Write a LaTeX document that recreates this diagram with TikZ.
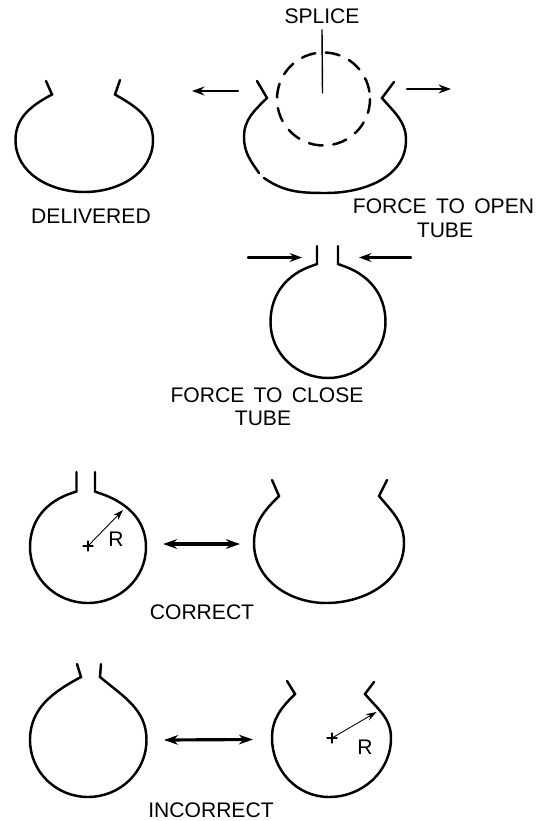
\documentclass[tikz,border=0pt]{standalone}
\usepackage{fontspec}
\setmainfont{Liberation Sans}
\usetikzlibrary{arrows.meta, positioning}

\begin{document}
\begin{tikzpicture}[x=0.02cm, y=-0.02cm, line cap=round, line join=miter,
    tube/.style={line width=1.4pt},
    force/.style={-{Stealth[length=7pt, width=5pt]}, line width=1.3pt},
    both/.style={{Stealth[length=8pt, width=5.5pt]}-{Stealth[length=8pt, width=5.5pt]}, line width=1.8pt},
    radius/.style={-{Stealth[length=6pt, width=4pt]}, line width=0.5pt},
    note/.style={font=\fontsize{12}{14}\selectfont, inner sep=0pt}]
    \useasboundingbox (0,0) rectangle (538,821);

    % delivered
    \draw[tube] (46,81) -- (52,94.5) to[out=208, in=90] (15.5,140) to[out=-90, in=180] (84.5,192)
      to[out=0, in=-90] (153,140) to[out=90, in=-30] (115,94.5) -- (120,80);
    \node[note] (delivered) at (91,216) {DELIVERED};

    % opened for the splice
    \draw[tube] (257,81) -- (267,98) to[out=225, in=90] (244,137) to[out=-90, in=125] (259,173);
    \draw[tube] (264,178) to[out=-35, in=180] (326,193) to[out=0, in=-90] (406,140)
      to[out=90, in=-50] (382,98) -- (394,82);
    \draw[tube, dash pattern=on 8pt off 6pt] (323.5,99) circle (46.5);
    \node[note] (splice) at (322,16) {SPLICE};
    \coordinate (spliceEnd) at (322.5,93);
    \draw[line width=0.8pt] (splice.south) ++(0,6) -- (spliceEnd);
    \coordinate (openLa) at (238,91);
    \coordinate (openLb) at (192,91);
    \coordinate (openRa) at (407,89);
    \coordinate (openRb) at (451,89);
    \draw[force] (openLa) -- (openLb);
    \draw[force] (openRa) -- (openRb);
    \node[note] (open) at (443.5,206) {FORCE\ \,TO\ \,OPEN};
    \node[note] (opentube) at (445,230) {TUBE};

    % closed
    \draw[tube] (317,246) -- (317,264) -- (313,265.5) to[out=198, in=90] (270.5,322)
      to[out=-90, in=180] (328,378) to[out=0, in=-90] (385.5,322) to[out=90, in=-18] (342,265.5)
      -- (338,264) -- (338,246);
    \coordinate (closeLa) at (248,257.5);
    \coordinate (closeLb) at (302,257.5);
    \coordinate (closeRa) at (411,257.5);
    \coordinate (closeRb) at (359,257.5);
    \draw[force] (closeLa) -- (closeLb);
    \draw[force] (closeRa) -- (closeRb);
    \node[note] (close) at (267,395) {FORCE\ \,TO\ \,CLOSE};
    \node[note] (closetube) at (263,418) {TUBE};

    % correct pair
    \draw[tube] (76.5,472) -- (76.5,491.5) -- (72,493) to[out=198, in=90] (30,547)
      to[out=-90, in=180] (88,603) to[out=0, in=-90] (146,547) to[out=90, in=-18] (99,493)
      -- (95,491.5) -- (95,472);
    \coordinate (corrC) at (88,546);
    \coordinate (corrT) at (123,510);
    \draw[line width=0.6pt] (corrC) ++(-5,0) -- ++(10,0) (corrC) ++(0,-5) -- ++(0,10);
    \draw[radius] (corrC) -- (corrT);
    \node[note] (corrR) at (116,539) {R};
    \draw[tube] (272,480) -- (279,496) to[out=225, in=90] (254,543) to[out=-90, in=180] (326,603)
      to[out=0, in=-90] (404,543) to[out=90, in=-50] (379,496) -- (387,480);
    \coordinate (corrA) at (163,544);
    \coordinate (corrB) at (240,544);
    \draw[both] (corrA) -- (corrB);
    \node[note] (correct) at (202,612) {CORRECT};

    % incorrect pair
    \draw[tube] (77,664) -- (81,677) to[out=208, in=90] (30,740) to[out=-90, in=180] (88,797)
      to[out=0, in=-90] (146.5,740) to[out=90, in=-40] (100,677) -- (101,664);
    \draw[tube] (287,681) -- (295,694) to[out=225, in=90] (272,738) to[out=-90, in=180] (329,797)
      to[out=0, in=-90] (391,738) to[out=90, in=-50] (365,694) -- (374,682);
    \coordinate (incoC) at (332,738);
    \coordinate (incoT) at (376.5,712);
    \draw[line width=0.6pt] (incoC) ++(-5,0) -- ++(10,0) (incoC) ++(0,-5) -- ++(0,10);
    \draw[radius] (incoC) -- (incoT);
    \node[note] (incoR) at (365,747) {R};
    \coordinate (incoA) at (164,740);
    \coordinate (incoB) at (253,739.5);
    \draw[both] (incoA) -- (incoB);
    \node[note] (incorrect) at (211,810) {INCORRECT};
\end{tikzpicture}
\end{document}
